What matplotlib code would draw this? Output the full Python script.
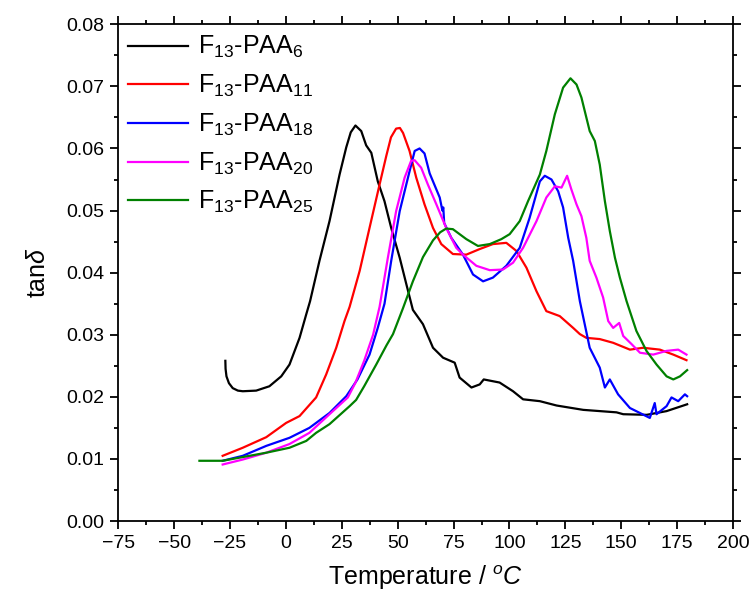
import matplotlib
matplotlib.use("Agg")
import matplotlib.pyplot as plt
from matplotlib.ticker import MultipleLocator, FormatStrFormatter

plt.rcParams['font.family'] = ['Liberation Sans', 'DejaVu Sans']
plt.rcParams['mathtext.fontset'] = 'custom'
plt.rcParams['mathtext.rm'] = 'Liberation Sans'
plt.rcParams['mathtext.it'] = 'Liberation Sans:italic'
plt.rcParams['mathtext.bf'] = 'Liberation Sans:bold'

labels = ["F$_{13}$-PAA$_{6}$", "F$_{13}$-PAA$_{11}$", "F$_{13}$-PAA$_{18}$",
          "F$_{13}$-PAA$_{20}$", "F$_{13}$-PAA$_{25}$"]
colors = ["#000000", "#ff0000", "#0000ff", "#ff00ff", "#008000"]

T_paa6 = [-27.1, -27.0, -26.6, -25.5, -23.8, -21.5, -19.3, -13.3, -7.4, -2.1, 1.6, 6.1, 9.1, 10.8,
          15.0, 19.5, 24.0, 27.0, 29.0, 31.1, 33.7, 35.9, 38.2, 41.1, 44.1, 47.1, 50.9, 53.9, 56.8,
          61.3, 65.8, 70.3, 75.5, 77.7, 83.0, 86.7, 88.5, 95.6, 101.6, 106.1, 113.6, 121.1, 133.0,
          147.9, 150.9, 161.4, 170.3, 179.5]
y_paa6 = [0.0258, 0.0245, 0.0233, 0.0222, 0.0214, 0.0210, 0.0209, 0.0210, 0.0217, 0.0233, 0.0252,
          0.0295, 0.0333, 0.0354, 0.0419, 0.0483, 0.0558, 0.0602, 0.0626, 0.0637, 0.0628, 0.0605,
          0.0593, 0.0547, 0.0515, 0.0472, 0.0424, 0.0381, 0.0340, 0.0317, 0.0279, 0.0263, 0.0255,
          0.0231, 0.0215, 0.0220, 0.0228, 0.0223, 0.0209, 0.0196, 0.0193, 0.0186, 0.0179, 0.0175,
          0.0172, 0.0171, 0.0177, 0.0188]

T_paa11 = [-28.3, -19.3, -8.8, 0.1, 6.1, 13.5, 18.0, 22.5, 26.2, 28.5, 33.0, 37.4, 41.9, 44.9,
           47.0, 49.3, 51.0, 52.4, 55.3, 58.3, 62.0, 65.8, 69.5, 74.7, 80.7, 86.7, 92.6, 98.6,
           103.1, 107.6, 112.1, 116.5, 122.5, 128.5, 131.5, 134.4, 140.4, 146.4, 153.9, 159.8,
           167.3, 173.3, 179.2]
y_paa11 = [0.0105, 0.0118, 0.0135, 0.0158, 0.0169, 0.0199, 0.0236, 0.0279, 0.0322, 0.0345, 0.0403,
           0.0472, 0.0542, 0.0588, 0.0618, 0.0632, 0.0633, 0.0625, 0.0596, 0.0553, 0.0510, 0.0472,
           0.0446, 0.0430, 0.0429, 0.0438, 0.0446, 0.0448, 0.0435, 0.0408, 0.0370, 0.0338, 0.0330,
           0.0311, 0.0301, 0.0295, 0.0293, 0.0287, 0.0276, 0.0279, 0.0276, 0.0268, 0.0259]

T_paa18 = [-28.3, -19.3, -8.8, 1.6, 10.5, 19.5, 27.0, 32.0, 37.4, 41.0, 44.1, 47.1, 50.9, 54.6,
           57.6, 59.8, 62.0, 64.3, 68.8, 70.0, 70.4, 70.8, 74.0, 79.2, 83.7, 88.2, 92.6, 98.6,
           104.6, 109.0, 113.6, 115.8, 118.8, 121.8, 124.0, 126.3, 128.5, 131.5, 135.9, 140.4,
           142.7, 144.9, 148.6, 153.9, 162.8, 165.0, 165.8, 170.3, 172.5, 175.5, 178.5, 179.5]
y_paa18 = [0.0097, 0.0105, 0.0121, 0.0134, 0.0150, 0.0174, 0.0201, 0.0228, 0.0268, 0.0310, 0.0350,
           0.0419, 0.0499, 0.0553, 0.0596, 0.0600, 0.0592, 0.0560, 0.0521, 0.0500, 0.0505, 0.0480,
           0.0456, 0.0429, 0.0397, 0.0386, 0.0392, 0.0411, 0.0440, 0.0488, 0.0547, 0.0556, 0.0550,
           0.0531, 0.0505, 0.0456, 0.0419, 0.0354, 0.0279, 0.0247, 0.0215, 0.0228, 0.0204, 0.0182,
           0.0166, 0.0190, 0.0172, 0.0185, 0.0199, 0.0193, 0.0204, 0.0201]

T_paa20 = [-28.3, -19.3, -8.8, 1.6, 10.5, 19.5, 27.7, 31.0, 35.0, 39.0, 41.9, 45.6, 49.3, 53.1,
           56.0, 57.6, 60.5, 63.5, 67.3, 71.7, 76.2, 79.2, 85.2, 91.2, 97.1, 101.6, 106.1, 112.1,
           116.5, 120.3, 123.3, 125.8, 127.7, 130.0, 132.2, 134.4, 135.9, 138.9, 141.9, 144.2,
           146.4, 149.1, 150.9, 154.6, 158.4, 164.3, 170.3, 175.5, 179.2]
y_paa20 = [0.0091, 0.0099, 0.0110, 0.0124, 0.0142, 0.0172, 0.0199, 0.0222, 0.0258, 0.0300, 0.0345,
           0.0424, 0.0499, 0.0553, 0.0580, 0.0581, 0.0569, 0.0542, 0.0510, 0.0472, 0.0440, 0.0429,
           0.0411, 0.0404, 0.0405, 0.0416, 0.0440, 0.0483, 0.0521, 0.0539, 0.0537, 0.0556, 0.0534,
           0.0510, 0.0491, 0.0456, 0.0419, 0.0392, 0.0360, 0.0322, 0.0311, 0.0319, 0.0298, 0.0285,
           0.0271, 0.0268, 0.0274, 0.0276, 0.0268]

T_paa25 = [-38.7, -28.3, -19.3, -8.8, 1.6, 9.1, 13.5, 19.5, 28.5, 31.4, 35.0, 40.4, 45.0, 47.9,
           52.4, 56.8, 61.3, 65.8, 69.0, 71.7, 74.7, 80.7, 85.9, 91.2, 96.4, 100.1, 104.6, 108.3,
           113.6, 116.5, 120.3, 124.0, 127.3, 130.0, 132.2, 135.9, 138.2, 140.4, 142.7, 144.9,
           147.2, 149.4, 152.4, 156.8, 161.3, 165.8, 170.3, 173.3, 176.3, 179.5]
y_paa25 = [0.0097, 0.0097, 0.0103, 0.0110, 0.0118, 0.0129, 0.0142, 0.0156, 0.0185, 0.0195, 0.0217,
           0.0252, 0.0283, 0.0301, 0.0343, 0.0386, 0.0425, 0.0452, 0.0465, 0.0471, 0.0470, 0.0454,
           0.0443, 0.0446, 0.0454, 0.0462, 0.0483, 0.0515, 0.0558, 0.0596, 0.0655, 0.0698, 0.0713,
           0.0703, 0.0682, 0.0628, 0.0612, 0.0574, 0.0515, 0.0467, 0.0424, 0.0392, 0.0354, 0.0306,
           0.0274, 0.0252, 0.0233, 0.0228, 0.0233, 0.0243]

series_T = [T_paa6, T_paa11, T_paa18, T_paa20, T_paa25]
series_y = [y_paa6, y_paa11, y_paa18, y_paa20, y_paa25]

fig = plt.figure(figsize=(7.51, 6.01), dpi=100)
ax = fig.add_axes([0.1575, 0.1331, 0.8185, 0.8265])

for T, y, lab, c in zip(series_T, series_y, labels, colors):
    ax.plot(T, y, color=c, lw=1.6, label=lab)

ax.set_xlim(-75, 200)
ax.set_ylim(0, 0.08)
ax.xaxis.set_major_locator(MultipleLocator(25))
ax.xaxis.set_minor_locator(MultipleLocator(12.5))
ax.yaxis.set_major_locator(MultipleLocator(0.01))
ax.yaxis.set_minor_locator(MultipleLocator(0.005))
ax.yaxis.set_major_formatter(FormatStrFormatter('%.2f'))

for s in ax.spines.values():
    s.set_linewidth(1.3)
ax.tick_params(which='both', direction='out', top=True, right=True, width=1.3, labelsize=14)
ax.tick_params(which='major', length=6, pad=4)
ax.tick_params(which='minor', length=3.2)

ax.set_xlabel("Temperature / $^{o}\\mathit{C}$", fontsize=18, labelpad=8)
ax.set_ylabel("tan$\\mathit{\\delta}$", fontsize=18, labelpad=12)

ax.legend(loc='upper left', frameon=False, fontsize=18, handlelength=2.4,
          handletextpad=0.4, labelspacing=0.5, borderaxespad=0.05, borderpad=0.35)

fig.savefig("out.png", dpi=100)
